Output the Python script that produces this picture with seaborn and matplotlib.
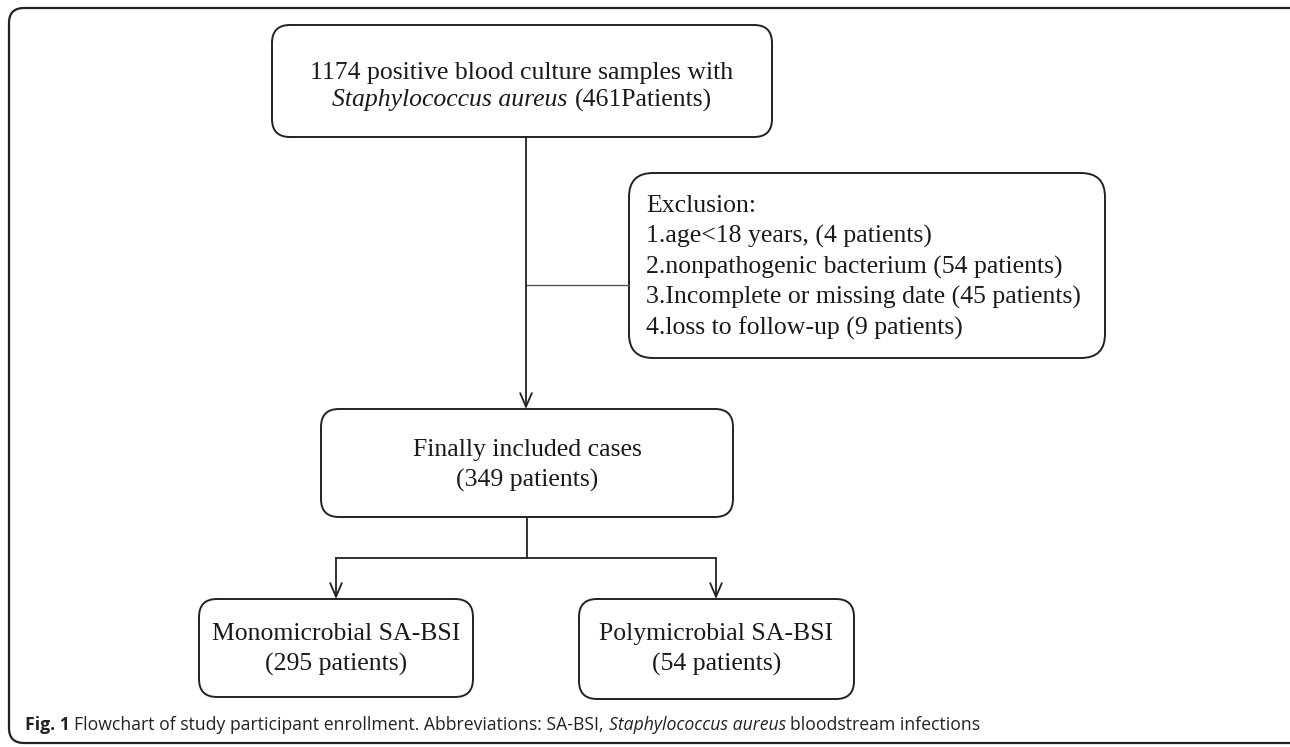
import matplotlib.pyplot as plt
import seaborn as sns
from matplotlib.patches import FancyBboxPatch

sns.set_theme(style="white")
plt.rcParams['font.family'] = ['Liberation Serif', 'DejaVu Serif']

# flow numbers
n_samples = 1174
n_patients = 461
excl_reasons = ["age<18 years,", "nonpathogenic bacterium", "Incomplete or missing date", "loss to follow-up"]
excl_counts = [4, 54, 45, 9]
n_included = 349
groups = ["Monomicrobial SA-BSI", "Polymicrobial SA-BSI"]
group_counts = [295, 54]

# layout in pixels (x0, y0, x1, y1), y grows downwards
boxes = {
    "top": (272, 25, 772, 137),
    "excl": (629, 173, 1105, 358),
    "incl": (321, 409, 733, 517),
    "mono": (199, 599, 473, 697),
    "poly": (579, 599, 854, 699),
}
fs = 18.5
ink = "#1a1a1a"

fig = plt.figure(figsize=(12.9, 7.47), dpi=100)
ax = fig.add_axes([0, 0, 1, 1])
ax.set_xlim(0, 1290)
ax.set_ylim(747, 0)
ax.axis("off")
r = fig.canvas.get_renderer()


def box(key, rad=18):
    x0, y0, x1, y1 = boxes[key]
    ax.add_patch(FancyBboxPatch((x0, y0), x1 - x0, y1 - y0,
                                boxstyle=f"round,pad=0,rounding_size={rad}",
                                fc="white", ec="#222222", lw=1.4, zorder=2))


def width(t):
    return t.get_window_extent(r).width


def inline(pieces, x, y, size, family, center=False, color=ink):
    # pieces: list of (text, style, weight); joined with single spaces
    probe = ax.text(0, 0, "a a", fontsize=size, family=family)
    probe2 = ax.text(0, 0, "aa", fontsize=size, family=family)
    gap = width(probe) - width(probe2)
    probe.remove(); probe2.remove()
    arts = [ax.text(0, y, s, fontsize=size, family=family, style=st, weight=wt,
                    va="center", ha="left", color=color, zorder=3)
            for s, st, wt in pieces]
    ws = [width(a) for a in arts]
    total = sum(ws) + gap * (len(arts) - 1)
    cx = x - total / 2 if center else x
    for a, w in zip(arts, ws):
        a.set_x(cx)
        cx += w + gap


def lines(x, ys, texts):
    for y, t in zip(ys, texts):
        ax.text(x, y, t, fontsize=fs, ha="center", va="center", color=ink, zorder=3)


# outer frame
ax.add_patch(FancyBboxPatch((9, 8), 1310, 735, boxstyle="round,pad=0,rounding_size=15",
                            fc="none", ec="#222222", lw=1.6, zorder=1))

for k in boxes:
    box(k, 24 if k == "excl" else 18)

# top box
tx = (boxes["top"][0] + boxes["top"][2]) / 2
ax.text(tx, 73, f"{n_samples} positive blood culture samples with", fontsize=fs,
        ha="center", va="center", color=ink, zorder=3)
inline([("Staphylococcus aureus", "italic", "normal"), (f"({n_patients}Patients)", "normal", "normal")],
       tx, 100, fs, ["Liberation Serif"], center=True)

# exclusion box
ax.text(646, 206, "Exclusion:", fontsize=fs, va="center", color=ink, zorder=3)
for i, (reason, n) in enumerate(zip(excl_reasons, excl_counts)):
    ax.text(646, 236.5 + 30.5 * i, f"{i + 1}.{reason} ({n} patients)", fontsize=fs,
            va="center", color=ink, zorder=3)

# included box
ix = (boxes["incl"][0] + boxes["incl"][2]) / 2
lines(ix, [450, 480], ["Finally included cases", f"({n_included} patients)"])

# group boxes
for key, g, n in zip(["mono", "poly"], groups, group_counts):
    x0, y0, x1, y1 = boxes[key]
    lines((x0 + x1) / 2, [634, 664], [g, f"({n} patients)"])

# connectors
line_kw = dict(ax=ax, sort=False, estimator=None, color="#222222", lw=1.3, legend=False)
sns.lineplot(x=[526, 629], y=[285, 285], **dict(line_kw, lw=1.0, color="#555555"))
sns.lineplot(x=[527, 527], y=[517, 558], **line_kw)
sns.lineplot(x=[336, 716], y=[558, 558], **line_kw)

arrow = dict(arrowstyle="->,head_length=0.7,head_width=0.3", color="#222222", lw=1.3,
             shrinkA=0, shrinkB=0, mutation_scale=14)
ax.annotate("", xy=(526, 409), xytext=(526, 137), arrowprops=arrow)
ax.annotate("", xy=(336, 599), xytext=(336, 558), arrowprops=arrow)
ax.annotate("", xy=(716, 599), xytext=(716, 558), arrowprops=arrow)

# caption
inline([("Fig. 1", "normal", "bold"),
        ("Flowchart of study participant enrollment. Abbreviations: SA-BSI,", "normal", "normal"),
        ("Staphylococcus aureus", "italic", "normal"),
        ("bloodstream infections", "normal", "normal")],
       25, 725, 12.7, ["Open Sans", "DejaVu Sans"], color="#222222")

fig.savefig("out.png", dpi=100)
